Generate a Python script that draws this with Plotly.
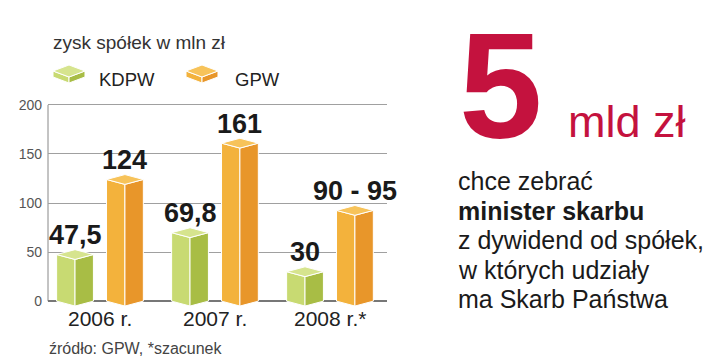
import plotly.graph_objects as go

# ---- data ----
years = ["2006 r.", "2007 r.", "2008 r.*"]
kdpw = [47.5, 69.8, 30]
gpw = [124, 161, 92.5]
kdpw_labels = ["47,5", "69,8", "30"]
gpw_labels = ["124", "161", "90 - 95"]
yticks = [0, 50, 100, 150, 200]

# ---- layout constants ----
W, H = 720, 363
ML, MR, MT, MB = 48, 333, 100, 54
PW, PH = W - ML - MR, H - MT - MB
XR = [-0.452, 2.496]
YR = [-8, 205]
OFF = 0.217
HW = 0.16
D = 5.0  # 3D depth offset in y-units

GREEN = dict(left="#c8da72", right="#a8bd45", top="#d6e48e")
ORANGE = dict(left="#f3b23c", right="#e8962a", top="#f7c35a")


def px(X):
    return (X - ML) / PW


def py(Y):
    return (H - MB - Y) / PH


fig = go.Figure()


def prism(xc, v, col):
    xl, xr = xc - HW, xc + HW
    faces = [
        ([xl, xc, xc, xl, xl], [0, -D, v - D, v, 0], col["left"]),
        ([xc, xr, xr, xc, xc], [-D, 0, v, v - D, -D], col["right"]),
        ([xl, xc, xr, xc, xl], [v, v - D, v, v + D, v], col["top"]),
    ]
    for xs, ys, c in faces:
        fig.add_trace(go.Scatter(x=xs, y=ys, mode="lines", fill="toself",
                                 fillcolor=c, line=dict(color="white", width=1),
                                 hoverinfo="skip", showlegend=False))


for i in range(len(years)):
    prism(i - OFF, kdpw[i], GREEN)
    prism(i + OFF, gpw[i], ORANGE)

annotations = []
for i in range(len(years)):
    for xc, v, t in [(i - OFF, kdpw[i], kdpw_labels[i]), (i + OFF, gpw[i], gpw_labels[i])]:
        annotations.append(dict(x=xc, y=v + D + 15, xref="x", yref="y", text="<b>" + t + "</b>",
                                showarrow=False, yanchor="middle",
                                font=dict(size=27, color="#1a1a1a", family="Liberation Sans")))
    annotations.append(dict(x=i, y=py(318), xref="x", yref="paper", text=years[i],
                            showarrow=False, yanchor="middle",
                            font=dict(size=21, color="#222", family="Liberation Sans")))

# titles & legend text
annotations += [
    dict(x=px(51), y=py(42), xref="paper", yref="paper", text="zysk spółek w mln zł",
         xanchor="left", yanchor="middle", showarrow=False,
         font=dict(size=19, color="#333", family="Liberation Sans")),
    dict(x=px(97), y=py(80), xref="paper", yref="paper", text="KDPW",
         xanchor="left", yanchor="middle", showarrow=False,
         font=dict(size=18.5, color="#222", family="Liberation Sans")),
    dict(x=px(233), y=py(80), xref="paper", yref="paper", text="GPW",
         xanchor="left", yanchor="middle", showarrow=False,
         font=dict(size=18.5, color="#222", family="Liberation Sans")),
    dict(x=px(47), y=py(348), xref="paper", yref="paper", text="źródło: GPW, *szacunek",
         xanchor="left", yanchor="middle", showarrow=False,
         font=dict(size=16, color="#444", family="Liberation Sans")),
    dict(x=px(457), y=py(86), xref="paper", yref="paper", text="<b>5</b>",
         xanchor="left", yanchor="middle", showarrow=False,
         font=dict(size=150, color="#c4123e", family="Liberation Sans")),
    dict(x=px(566), y=py(121), xref="paper", yref="paper", text="mld zł",
         xanchor="left", yanchor="middle", showarrow=False,
         font=dict(size=45, color="#c4123e", family="Liberation Sans")),
]
lines = ["chce zebrać", "<b>minister skarbu</b>", "z dywidend od spółek,",
         "w których udziały", "ma Skarb Państwa"]
for k, t in enumerate(lines):
    annotations.append(dict(x=px(456), y=py(181 + 29.5 * k), xref="paper", yref="paper",
                            text=t, xanchor="left", yanchor="middle", showarrow=False,
                            font=dict(size=25, color="#1a1a1a", family="Liberation Sans")))

# legend cube icons & y axis line
shapes = []


def cube_icon(x0, col):
    xl, xm, xr = x0, x0 + 16, x0 + 32
    yt, ymid = 65, 71
    h = 6
    pts_top = [(xl, ymid), (xm, yt), (xr, ymid), (xm, ymid + 6)]
    pts_left = [(xl, ymid), (xm, ymid + 6), (xm, ymid + 6 + h), (xl, ymid + h)]
    pts_right = [(xm, ymid + 6), (xr, ymid), (xr, ymid + h), (xm, ymid + 6 + h)]
    for pts, c in [(pts_left, col["left"]), (pts_right, col["right"]), (pts_top, col["top"])]:
        path = "M " + " L ".join(f"{px(a):.5f},{py(b):.5f}" for a, b in pts) + " Z"
        shapes.append(dict(type="path", xref="paper", yref="paper", path=path,
                           fillcolor=c, line=dict(color="white", width=1)))


cube_icon(53, GREEN)
cube_icon(186, ORANGE)
shapes.append(dict(type="line", xref="paper", yref="y", x0=0, x1=0, y0=0, y1=200,
                   line=dict(color="#888", width=1), layer="below"))

fig.update_layout(
    width=W, height=H,
    margin=dict(l=ML, r=MR, t=MT, b=MB),
    paper_bgcolor="white", plot_bgcolor="white",
    showlegend=False,
    annotations=annotations,
    shapes=shapes,
    xaxis=dict(range=XR, showgrid=False, zeroline=False, showticklabels=False,
               showline=False, fixedrange=True),
    yaxis=dict(range=YR, tickvals=yticks, ticktext=[str(t) for t in yticks],
               showgrid=True, gridcolor="#a0a0a0", gridwidth=1,
               zeroline=True, zerolinecolor="#777", zerolinewidth=2,
               ticks="", ticklabelstandoff=5,
               tickfont=dict(size=14, color="#555", family="Liberation Sans"),
               showline=False, fixedrange=True),
)

fig.write_html("out.html")
